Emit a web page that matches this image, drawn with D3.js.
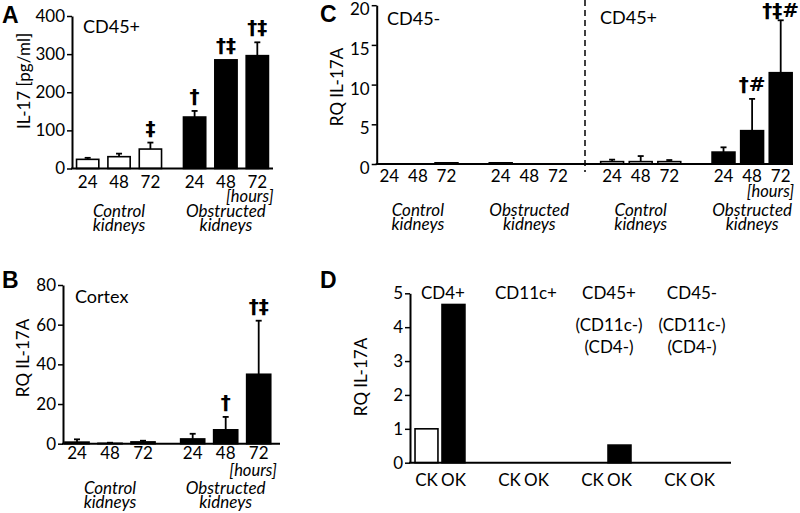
<!DOCTYPE html>
<html>
<head>
<meta charset="utf-8">
<script src="https://cdn.jsdelivr.net/npm/d3@7"></script>
<style>
  html, body { margin: 0; padding: 0; background: #fff; }
  svg { display: block; }
</style>
</head>
<body>
<script>
// ---------------- DATA ----------------
const timeLabels = ["24", "48", "72"];
const kidneyGroups = ["Control", "Obstructed"];

// Panel A: IL-17 [pg/ml], CD45+
const aTicks = [0, 100, 200, 300, 400];
const aControl = [24, 31, 51];
const aControlErr = [4, 8, 17];
const aControlSig = ["", "", "‡"];
const aObstructed = [135, 285, 296];
const aObstructedErr = [16, 0, 35];
const aObstructedSig = ["†", "†‡", "†‡"];

// Panel B: RQ IL-17A, Cortex
const bTicks = [0, 20, 40, 60, 80];
const bControl = [0.8, 0.2, 0.9];
const bControlErr = [1.4, 0.3, 0.6];
const bControlSig = ["", "", ""];
const bObstructed = [2.4, 7.0, 35];
const bObstructedErr = [2.6, 6.5, 27];
const bObstructedSig = ["", "†", "†‡"];

// Panel C: RQ IL-17A, CD45- and CD45+
const cPopulations = ["CD45-", "CD45+"];
const cTicks = [0, 5, 10, 15, 20];
const cNegControl = [0, 0, 0.15];
const cNegControlErr = [0, 0, 0];
const cNegObstructed = [0.15, 0, 0];
const cNegObstructedErr = [0, 0, 0];
const cPosControl = [0.3, 0.3, 0.3];
const cPosControlErr = [0.25, 0.7, 0.2];
const cPosObstructed = [1.5, 4.2, 11.5];
const cPosObstructedErr = [0.6, 4.0, 6.6];
const cPosObstructedSig = ["", "†#", "†‡#"];
const noSig = ["", "", ""];

// Panel D: RQ IL-17A by sorted cell type
const dTicks = [0, 1, 2, 3, 4, 5];
const dCellTypes = [["CD4+"], ["CD11c+"], ["CD45+", "(CD11c-)", "(CD4-)"], ["CD45-", "(CD11c-)", "(CD4-)"]];
const dKidneys = ["CK", "OK"];
const dCK = [1, 0, 0, 0];
const dOK = [4.67, 0, 0.52, 0];

// ---------------- DRAWING ----------------
const FONT = "Lato, 'Open Sans', sans-serif";
const SYM = "'DejaVu Sans', sans-serif";
const svg = d3.select("body").append("svg").attr("width", 800).attr("height", 513);

function yAxis(g, y, ticks, x, dy) {
  const ax = g.append("g").attr("transform", `translate(${x},0)`)
    .call(d3.axisLeft(y).tickValues(ticks).tickFormat(d3.format("d"))
      .tickSize(5).tickSizeOuter(0).tickPadding(2));
  ax.select(".domain").attr("stroke", "#000").attr("stroke-width", 2);
  ax.selectAll(".tick line").attr("stroke", "#000").attr("stroke-width", 1.5);
  ax.selectAll(".tick text").attr("fill", "#000")
    .style("font-family", FONT).style("font-size", "17px");
  if (dy) ax.selectAll(".tick text").attr("transform", `translate(0,${dy})`);
  return ax;
}
function baseLine(g, y, x0, x1) {
  g.append("line").attr("x1", x0 - 1).attr("x2", x1).attr("y1", y(0)).attr("y2", y(0))
    .attr("stroke", "#000").attr("stroke-width", 2);
}
function yLabel(g, text, x, yc) {
  g.append("text").attr("transform", `translate(${x},${yc}) rotate(-90)`)
    .attr("text-anchor", "middle").attr("dominant-baseline", "central")
    .style("font-family", FONT).style("font-size", "17px").text(text);
}
function letter(g, t, x, y) {
  g.append("text").attr("x", x).attr("y", y)
    .style("font-family", "'Liberation Sans', Arial, sans-serif").style("font-weight", "bold")
    .style("font-size", "23px").text(t);
}
function plainText(g, t, x, y, size, anchor, italic) {
  return g.append("text").attr("x", x).attr("y", y).attr("text-anchor", anchor || "start")
    .style("font-family", FONT).style("font-size", size + "px")
    .style("font-style", italic ? "italic" : "normal").text(t);
}
// Multi-line text in a single text element
function multiText(g, lines, x, y, offsets, size, italic) {
  const t = g.append("text").attr("x", x).attr("y", y).attr("text-anchor", "middle")
    .style("font-family", FONT).style("font-size", size + "px")
    .style("font-style", italic ? "italic" : "normal");
  lines.forEach((line, j) => t.append("tspan").attr("x", x).attr("y", y + offsets[j]).text(line));
  return t;
}

// Draw one group of bars (three time points)
function barGroup(g, xPos, bw, y, vals, errs, sigs, fill) {
  const rows = vals.map((v, i) => ({ v, e: errs[i], s: sigs[i], x: xPos(timeLabels[i]) }));
  rows.forEach(d => {
    if (d.e > 0) {
      g.append("line").attr("x1", d.x + bw / 2).attr("x2", d.x + bw / 2)
        .attr("y1", y(d.v)).attr("y2", y(d.v + d.e)).attr("stroke", "#000").attr("stroke-width", 1.8);
      g.append("line").attr("x1", d.x + bw / 2 - 3).attr("x2", d.x + bw / 2 + 3)
        .attr("y1", y(d.v + d.e)).attr("y2", y(d.v + d.e)).attr("stroke", "#000").attr("stroke-width", 1.8);
    }
  });
  g.selectAll(null).data(rows).enter().append("rect")
    .attr("x", d => d.x).attr("width", bw)
    .attr("y", d => y(d.v)).attr("height", d => y(0) - y(d.v))
    .attr("fill", fill).attr("stroke", "#000").attr("stroke-width", 1.6);
  rows.forEach(d => {
    if (d.s) {
      const top = y(d.v + d.e);
      g.append("text").attr("x", d.x + bw / 2).attr("y", Math.max(top - 8, 17))
        .attr("text-anchor", "middle")
        .style("font-family", SYM).style("font-weight", "bold").style("font-size", "20px").text(d.s);
    }
  });
}

function timeTicks(g, xPos, bw, yBase) {
  timeLabels.forEach(t => plainText(g, t, xPos(t) + bw / 2, yBase, 17, "middle"));
}
function groupLabel(g, name, cx, yb1, yb2) {
  multiText(g, [name, "kidneys"], cx, yb1, [0, yb2 - yb1], 17, true);
}

// ---------- Panel A ----------
(function () {
  const g = svg.append("g");
  const y = d3.scaleLinear().domain([0, 400]).range([168.5, 16]);
  const xo = d3.scaleBand().domain(kidneyGroups).range([72, 273]).paddingInner(0.12).paddingOuter(0);
  const xi = d3.scaleBand().domain(timeLabels).range([0, xo.bandwidth()]).paddingInner(0.29).paddingOuter(0.145);
  const bw = xi.bandwidth();
  barGroup(g, t => xo("Control") + xi(t), bw, y, aControl, aControlErr, aControlSig, "#fff");
  barGroup(g, t => xo("Obstructed") + xi(t), bw, y, aObstructed, aObstructedErr, aObstructedSig, "#000");
  yAxis(g, y, aTicks, 72);
  baseLine(g, y, 72, 273);
  kidneyGroups.forEach(k => {
    timeTicks(g, t => xo(k) + xi(t), bw, 188);
    groupLabel(g, k, xo(k) + xo.bandwidth() / 2, 217, 231);
  });
  plainText(g, "[hours]", xo("Obstructed") + xi("72") + bw + 5, 202, 16.5, "end", true);
  plainText(g, "CD45+", 83, 33, 18);
  yLabel(g, "IL-17 [pg/ml]", 23, 81);
  letter(g, "A", 2, 23);
})();

// ---------- Panel B ----------
(function () {
  const g = svg.append("g");
  const y = d3.scaleLinear().domain([0, 80]).range([443.7, 285]);
  const xo = d3.scaleBand().domain(kidneyGroups).range([60.5, 275.2]).paddingInner(0.144).paddingOuter(0);
  const xi = d3.scaleBand().domain(timeLabels).range([0, xo.bandwidth()]).paddingInner(0.27).paddingOuter(0.135);
  const bw = xi.bandwidth();
  barGroup(g, t => xo("Control") + xi(t), bw, y, bControl, bControlErr, bControlSig, "#000");
  barGroup(g, t => xo("Obstructed") + xi(t), bw, y, bObstructed, bObstructedErr, bObstructedSig, "#000");
  yAxis(g, y, bTicks, 63);
  baseLine(g, y, 63, 280);
  kidneyGroups.forEach(k => {
    timeTicks(g, t => xo(k) + xi(t), bw, 459);
    groupLabel(g, k, xo(k) + xo.bandwidth() / 2, 494, 508);
  });
  plainText(g, "[hours]", xo("Obstructed") + xi("72") + bw + 6, 476, 16.5, "end", true);
  plainText(g, "Cortex", 75, 303, 18);
  yLabel(g, "RQ IL-17A", 22, 358);
  letter(g, "B", 2, 288);
})();

// ---------- Panel C ----------
(function () {
  const g = svg.append("g");
  const y = d3.scaleLinear().domain([0, 20]).range([164, 5.2]);
  const groups = [];
  cPopulations.forEach(p => kidneyGroups.forEach(k => groups.push(p + "|" + k)));
  const xo = d3.scaleBand().domain(groups).range([375, 795]).paddingInner(0.23).paddingOuter(0);
  const xi = d3.scaleBand().domain(timeLabels).range([0, xo.bandwidth()]).paddingInner(0.2).paddingOuter(0.1);
  const bw = xi.bandwidth();
  const series = {
    "CD45-|Control": [cNegControl, cNegControlErr, noSig, "#fff"],
    "CD45-|Obstructed": [cNegObstructed, cNegObstructedErr, noSig, "#000"],
    "CD45+|Control": [cPosControl, cPosControlErr, noSig, "#fff"],
    "CD45+|Obstructed": [cPosObstructed, cPosObstructedErr, cPosObstructedSig, "#000"]
  };
  groups.forEach(key => {
    const s = series[key];
    barGroup(g, t => xo(key) + xi(t), bw, y, s[0], s[1], s[2], s[3]);
    timeTicks(g, t => xo(key) + xi(t), bw, 182);
    groupLabel(g, key.split("|")[1], xo(key) + xo.bandwidth() / 2, 216, 230);
  });
  yAxis(g, y, cTicks, 376.7, 4);
  baseLine(g, y, 376.7, 793);
  // dashed separator between CD45- and CD45+
  const sepX = (xo("CD45-|Obstructed") + xo.bandwidth() + xo("CD45+|Control")) / 2;
  g.append("line").attr("x1", sepX).attr("x2", sepX).attr("y1", 0).attr("y2", 172)
    .attr("stroke", "#000").attr("stroke-width", 1.5).attr("stroke-dasharray", "6,4");
  plainText(g, "[hours]", xo("CD45+|Obstructed") + xi("72") + bw + 2, 197, 16.5, "end", true);
  plainText(g, cPopulations[0], 387, 25, 18);
  plainText(g, cPopulations[1], 600, 24, 18);
  yLabel(g, "RQ IL-17A", 336, 87);
  letter(g, "C", 320, 22);
})();

// ---------- Panel D ----------
(function () {
  const g = svg.append("g");
  const y = d3.scaleLinear().domain([0, 5]).range([462.7, 293.3]);
  const keys = dCellTypes.map(d => d.join(" "));
  const xo = d3.scaleBand().domain(keys).range([413, 716]).paddingInner(0.35).paddingOuter(0);
  const xi = d3.scaleBand().domain(dKidneys).range([0, xo.bandwidth()]).paddingInner(0.15).paddingOuter(0.075);
  const bw = xi.bandwidth();
  const rows = [];
  keys.forEach((k, i) => {
    rows.push({ k, kid: "CK", v: dCK[i], fill: "#fff" });
    rows.push({ k, kid: "OK", v: dOK[i], fill: "#000" });
  });
  g.selectAll(null).data(rows.filter(d => d.v > 0)).enter().append("rect")
    .attr("x", d => xo(d.k) + xi(d.kid)).attr("width", bw)
    .attr("y", d => y(d.v)).attr("height", d => y(0) - y(d.v))
    .attr("fill", d => d.fill).attr("stroke", "#000").attr("stroke-width", 1.6);
  yAxis(g, y, dTicks, 410);
  baseLine(g, y, 410, 731);
  const lineOffsets = [0, 32, 54];
  keys.forEach((k, i) => {
    dKidneys.forEach(kid => plainText(g, kid, xo(k) + xi(kid) + bw / 2, 486, 17, "middle"));
    multiText(g, dCellTypes[i], xo(k) + xo.bandwidth() / 2 + 3, 299, lineOffsets, 17, false);
  });
  yLabel(g, "RQ IL-17A", 360, 377);
  letter(g, "D", 320, 288);
})();
</script>
</body>
</html>
